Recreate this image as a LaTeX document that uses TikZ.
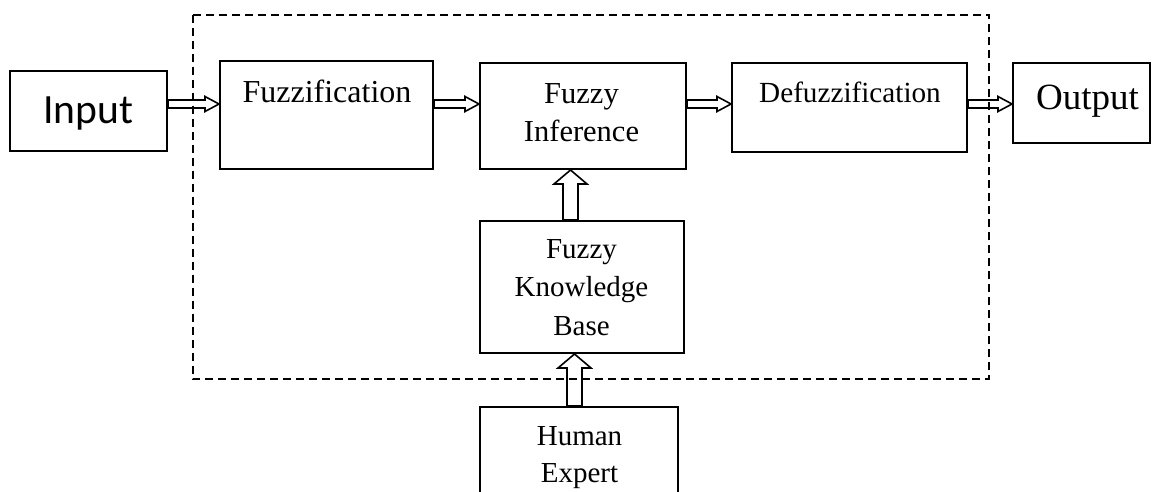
\documentclass[tikz,border=0pt]{standalone}
\usepackage{fontspec}
\setmainfont{Liberation Serif}
\newfontfamily\inputfont{Carlito}
\usetikzlibrary{calc}

\tikzset{
  box/.style={draw, line width=2pt, rectangle, inner sep=0pt},
  lbl/.style={anchor=base, inner sep=0pt, align=center},
  % hollow block arrow: #1 half shaft width, #2 half head width, #3 head length
  blockarrow/.style n args={3}{draw, line width=1.6pt, line join=miter,
    to path={
      ($(\tikztostart)!#1!90:(\tikztotarget)$)
      -- ($(\tikztotarget)!#3!(\tikztostart)!#1!-90:(\tikztostart)$)
      -- ($(\tikztotarget)!#3!(\tikztostart)!#2!-90:(\tikztostart)$)
      -- (\tikztotarget)
      -- ($(\tikztotarget)!#3!(\tikztostart)!#2!90:(\tikztostart)$)
      -- ($(\tikztotarget)!#3!(\tikztostart)!#1!90:(\tikztostart)$)
      -- ($(\tikztostart)!#1!-90:(\tikztotarget)$)
      -- cycle}},
  harrow/.style={blockarrow={4pt}{7.5pt}{14pt}},
  varrow/.style={blockarrow={7.5pt}{16.5pt}{14pt}},
}

\begin{document}
\begin{tikzpicture}[x=1pt, y=-1pt]
  \clip (0,0) rectangle (1152,491);
  \useasboundingbox (0,0) rectangle (1152,491);

  % system boundary
  \draw[line width=2pt, dash pattern=on 8pt off 5pt]
    (192.5,14.5) rectangle (989,379);

  % blocks
  \node[box, minimum width=157pt, minimum height=80pt]  (in)  at (88.5,111) {};
  \node[box, minimum width=213pt, minimum height=108pt] (fuz) at (326.5,115) {};
  \node[box, minimum width=206pt, minimum height=106pt] (inf) at (583,116) {};
  \node[box, minimum width=235pt, minimum height=89pt]  (def) at (849.5,107.5) {};
  \node[box, minimum width=137pt, minimum height=80pt]  (out) at (1081.5,103) {};
  \node[box, minimum width=204pt, minimum height=132pt] (kb)  at (582,287) {};
  \node[box, minimum width=198pt, minimum height=140pt] (hum) at (579,477) {};

  % labels (base anchor = baseline of the last line)
  \node[lbl, font=\inputfont\fontsize{41.6}{48}\selectfont] (inT) at (88,123) {Input};
  \node[lbl, font=\fontsize{32}{38}\selectfont] (fuzT) at (327,102) {Fuzzification};
  \node[lbl, font=\fontsize{30.5}{38}\selectfont] (infT) at (581.5,141) {Fuzzy\\Inference};
  \node[lbl, font=\fontsize{29.2}{38}\selectfont] (defT) at (850,102) {Defuzzification};
  \node[lbl, font=\fontsize{37}{44}\selectfont] (outT) at (1087.5,109) {Output};
  \node[lbl, font=\fontsize{29}{38.5}\selectfont] (kbT) at (581.5,335) {Fuzzy\\Knowledge\\Base};
  \node[lbl, font=\fontsize{29}{37}\selectfont] (humT) at (579.5,482) {Human\\Expert};

  % signal flow
  \coordinate (row) at (0,104);
  \coordinate (colA) at (570.5,0);
  \coordinate (colB) at (574.5,0);
  \draw[harrow] (in.east |- row) to (fuz.west |- row);
  \draw[harrow] (fuz.east |- row) to (inf.west |- row);
  \draw[harrow] (inf.east |- row) to (def.west |- row);
  \draw[harrow] (def.east |- row) to (out.west |- row);
  \draw[varrow] (kb.north -| colA) to (inf.south -| colA);
  \draw[varrow] (hum.north -| colB) to (kb.south -| colB);
\end{tikzpicture}
\end{document}
